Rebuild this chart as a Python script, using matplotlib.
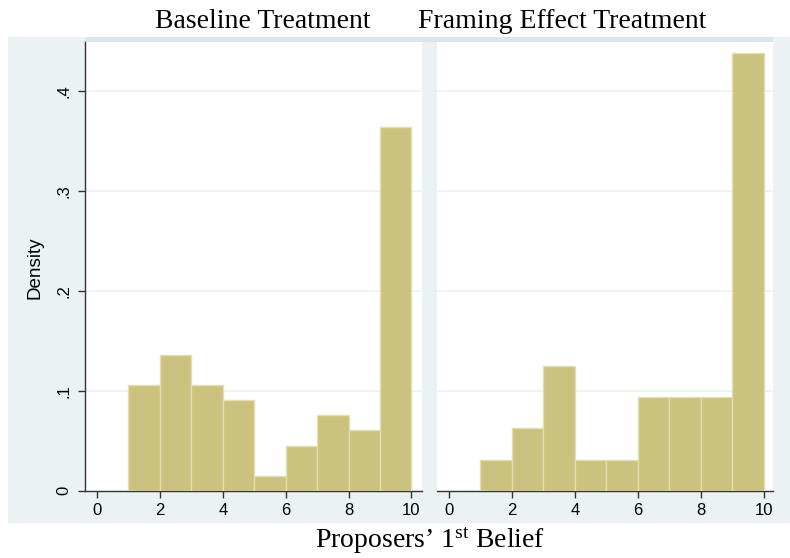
import matplotlib
matplotlib.use("Agg")
import matplotlib.pyplot as plt
from matplotlib.patches import Rectangle

plt.rcParams['font.family'] = ['Liberation Sans', 'DejaVu Sans']
plt.rcParams['mathtext.fontset'] = 'custom'
plt.rcParams['mathtext.rm'] = 'Liberation Serif'
plt.rcParams['mathtext.it'] = 'Liberation Serif:italic'

# Data (density per unit-width bin)
bin_edges = [1, 2, 3, 4, 5, 6, 7, 8, 9, 10]
baseline_density = [0.106, 0.136, 0.106, 0.091, 0.015, 0.045, 0.076, 0.061, 0.364]
framing_density = [0.031, 0.0625, 0.125, 0.031, 0.031, 0.094, 0.094, 0.094, 0.4375]
panel_titles = ["Baseline Treatment", "Framing Effect Treatment"]
x_ticks = [0, 2, 4, 6, 8, 10]
y_ticks = [0, 0.1, 0.2, 0.3, 0.4]
y_tick_labels = ["0", ".1", ".2", ".3", ".4"]
x_label = "Proposers\u2019 1$^{\\mathrm{st}}$ Belief"
y_label = "Density"

W, H = 790, 558
fig = plt.figure(figsize=(W / 100, H / 100), dpi=100)
fig.patch.set_facecolor('white')

BG = '#EAF2F3'
STRIP = '#D9E6EB'
BAR = '#CAC27E'
BAR_EDGE = '#E4DFAE'

def fx(px):
    return px / W

def fy(py):
    return 1 - py / H

# outer graph background
fig.patches.append(Rectangle((fx(8), fy(523)), fx(790) - fx(8), fy(37) - fy(523),
                             transform=fig.transFigure, facecolor=BG, edgecolor='none', zorder=-10))
# strip at top
fig.patches.append(Rectangle((fx(85), fy(42)), fx(773) - fx(85), fy(37) - fy(42),
                             transform=fig.transFigure, facecolor=STRIP, edgecolor='none', zorder=-9))

panels = [(85, 422, baseline_density), (437, 773, framing_density)]
top, bottom = 42, 490.7
ylim = (0, (bottom - top) / 1000.0)

for i, (l, r, dens) in enumerate(panels):
    ax = fig.add_axes([fx(l), fy(bottom), fx(r) - fx(l), fy(top) - fy(bottom)])
    ax.set_zorder(5)
    ax.set_facecolor('white')
    lefts = bin_edges[:-1]
    widths = [b - a for a, b in zip(bin_edges[:-1], bin_edges[1:])]
    ax.bar(lefts, dens, width=widths, align='edge', color=BAR,
           edgecolor=BAR_EDGE, linewidth=1.0, zorder=3)
    ppu = 31.45
    x0 = l + 12
    ax.set_xlim((l - x0) / ppu, (r - x0) / ppu)
    ax.set_ylim(*ylim)
    for yt in y_ticks[1:]:
        ax.axhline(yt, color=BG, linewidth=1.2, zorder=1)
    ax.set_xticks(x_ticks)
    ax.set_xticklabels([str(t) for t in x_ticks])
    ax.tick_params(axis='x', direction='out', length=5, width=1, color='#333333',
                   labelsize=12, pad=4)
    for s in ['top', 'right']:
        ax.spines[s].set_visible(False)
    ax.spines['bottom'].set_color('#333333')
    ax.spines['bottom'].set_linewidth(1)
    if i == 0:
        ax.set_yticks(y_ticks)
        ax.set_yticklabels(y_tick_labels, rotation=90, va='center')
        ax.tick_params(axis='y', direction='out', length=5, width=1, color='#333333',
                       labelsize=12, pad=5)
        ax.spines['left'].set_color('#333333')
        ax.spines['left'].set_linewidth(1)
    else:
        ax.spines['left'].set_visible(False)
        ax.set_yticks([])

fig.text(fx(35), fy(268), y_label, rotation=90, ha='center', va='center',
         fontsize=13.6, family='Liberation Sans')
fig.text(fx(263), fy(22), panel_titles[0], ha='center', va='center',
         fontsize=20, family='Liberation Serif')
fig.text(fx(562), fy(22), panel_titles[1], ha='center', va='center',
         fontsize=20, family='Liberation Serif')
fig.text(fx(430), fy(541), x_label, ha='center', va='center',
         fontsize=20, family='Liberation Serif')

fig.savefig('out.png', dpi=100, facecolor='white')
